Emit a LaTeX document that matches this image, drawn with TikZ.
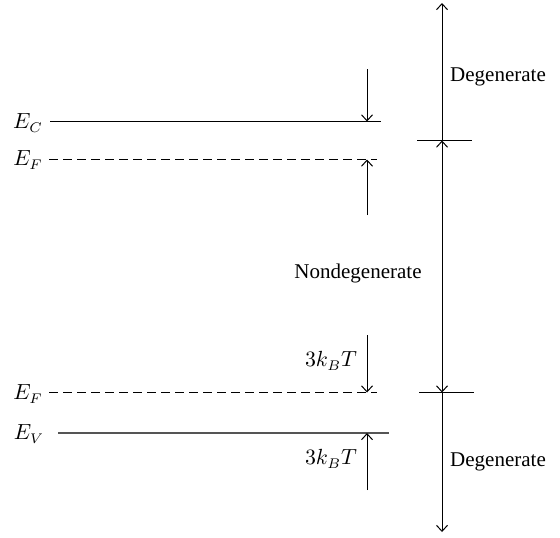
\documentclass[tikz,border=0pt]{standalone}
\usepackage{fontspec}
\setmainfont{Liberation Serif}
\usetikzlibrary{positioning, arrows.meta}
\definecolor{band}{HTML}{555555}

\begin{document}
\begin{tikzpicture}[x=0.5pt, y=-0.5pt,
    every node/.style={font=\fontsize{10.5}{12}\selectfont, inner sep=0pt},
    level/.style={line width=0.6pt},
    fermi/.style={line width=0.5pt, dash pattern=on 4.5pt off 2.5pt},
    arr/.style={-{Straight Barb[length=3pt, width=5.5pt]}, line width=0.5pt},
    darr/.style={{Straight Barb[length=3pt, width=5.5pt]}-{Straight Barb[length=3pt, width=5.5pt]}, line width=0.5pt}]
  \useasboundingbox (0,0) rectangle (560,537);
  % levels and their labels
  \node (EC) at (28,123) {$E_C$};
  \node (EFu) at (28,160) {$E_F$};
  \node (EFl) at (28,394) {$E_F$};
  \node (EV) at (29,434) {$E_V$};
  \coordinate (ECa) at (50,121.5);  \coordinate (ECb) at (381,121.5);
  \coordinate (EFua) at (49,159.5); \coordinate (EFub) at (377,159.5);
  \coordinate (EFla) at (49,392.5); \coordinate (EFlb) at (377,392.5);
  \coordinate (EVa) at (58,433);    \coordinate (EVb) at (389,433);
  \draw[level] (ECa) -- (ECb);
  \draw[fermi] (EFua) -- (EFub);
  \draw[fermi] (EFla) -- (EFlb);
  \draw[level, line width=0.9pt, color=band] (EVa) -- (EVb);
  % 3kT gaps
  \coordinate (g1) at (367,69);   \coordinate (g1e) at (367,121.5);
  \coordinate (g2) at (367,215);  \coordinate (g2e) at (367,159.5);
  \coordinate (g3) at (367,335);  \coordinate (g3e) at (367,392.5);
  \coordinate (g4) at (367,490);  \coordinate (g4e) at (367,433);
  \draw[arr] (g1) -- (g1e);
  \draw[arr] (g2) -- (g2e);
  \draw[arr] (g3) -- (g3e);
  \draw[arr] (g4) -- (g4e);
  \node (kTu) at (331,361) {$3k_BT$};
  \node (kTl) at (331,459) {$3k_BT$};
  % regimes
  \coordinate (top) at (442,3);
  \coordinate (t1) at (442,140.5);
  \coordinate (t2) at (442,392.5);
  \coordinate (bot) at (442,532);
  \draw[arr] (t1) -- (top);
  \draw[darr] (t1) -- (t2);
  \draw[arr] (t2) -- (bot);
  \draw[line width=0.6pt] ([xshift=-12.5pt]t1) -- ([xshift=15pt]t1);
  \draw[line width=0.6pt] ([xshift=-11.5pt]t2) -- ([xshift=16pt]t2);
  \node (deg1) at (498,77) {Degenerate};
  \node (ndeg) at (358,273) {Nondegenerate};
  \node (deg2) at (498,462) {Degenerate};
\end{tikzpicture}
\end{document}
